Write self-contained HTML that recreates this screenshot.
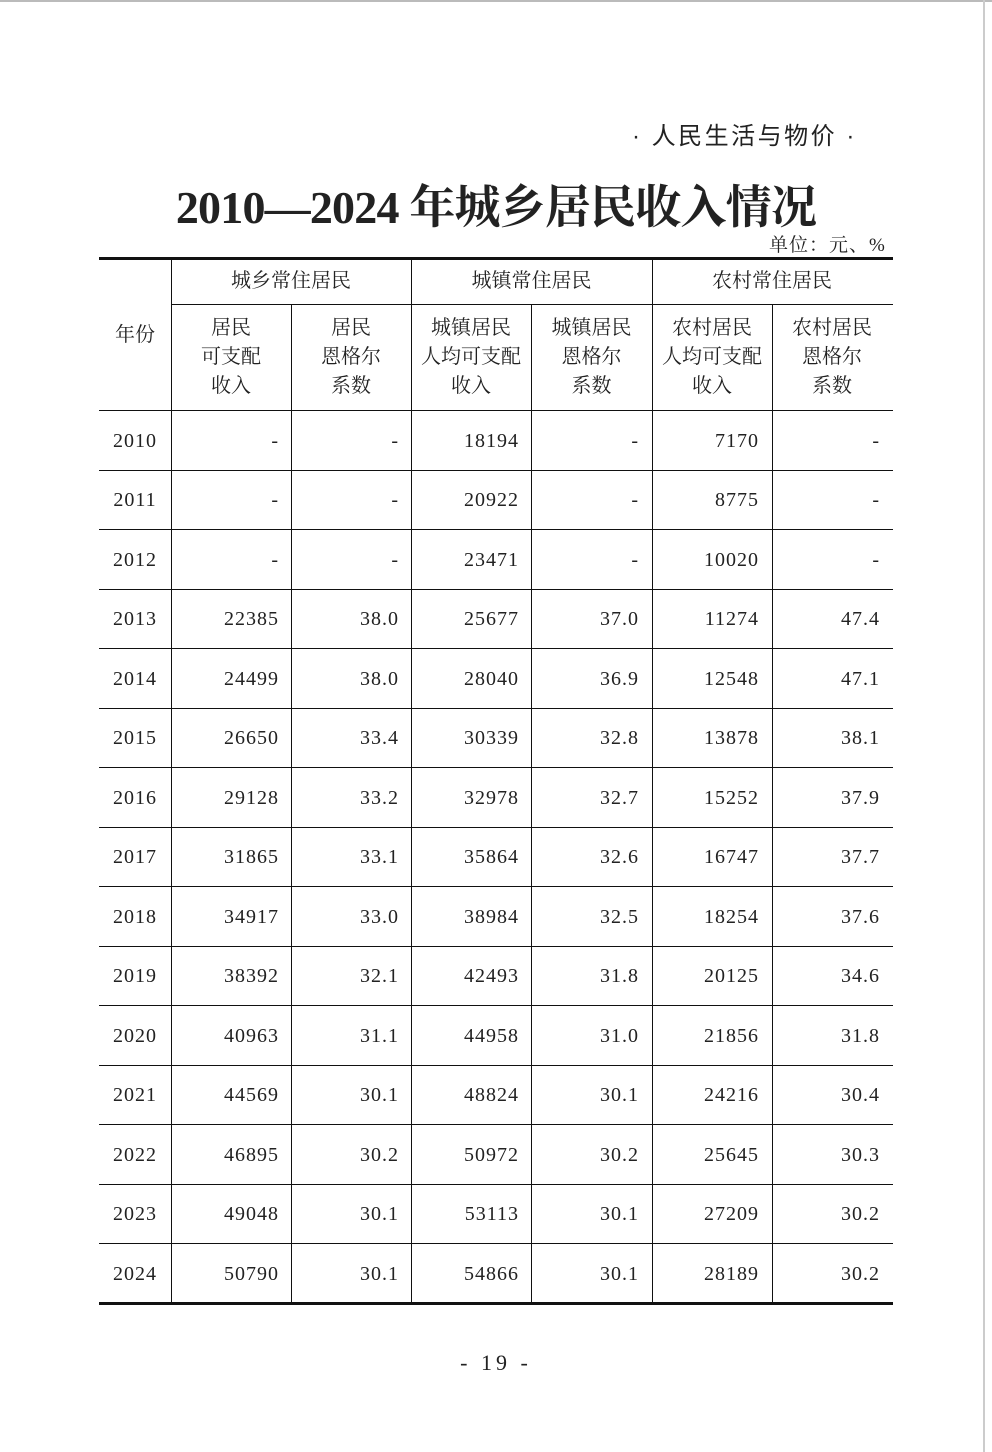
<!DOCTYPE html>
<html><head><meta charset="utf-8"><style>
body{margin:0;width:992px;height:1452px;background:#fff;position:relative;overflow:hidden;font-family:"Liberation Serif","Noto Serif CJK SC",serif;color:#222}
.a{position:absolute}
.h{position:absolute;background:#111}
.v{position:absolute;background:#111;width:1px}
.c{position:absolute;text-align:center;font-size:20px;line-height:29px}
.n{position:absolute;text-align:right;font-size:20px;line-height:24px;letter-spacing:1px}
</style></head><body>
<div class="a" style="left:0;top:0;width:992px;height:2px;background:#bbb"></div>
<div class="a" style="left:983px;top:0;width:2px;height:1452px;background:#ccc"></div>
<div class="a" style="left:632px;top:116px;font-size:24px;font-family:'Liberation Sans','Noto Sans CJK SC',sans-serif;letter-spacing:2.5px;white-space:nowrap">· 人民生活与物价 ·</div>
<div class="a" style="left:0;width:992px;top:171px;text-align:center;font-size:46px;font-weight:bold;font-family:'Liberation Serif','Noto Serif CJK SC',serif;letter-spacing:-0.8px">2010—2024 年城乡居民收入情况</div>
<div class="a" style="left:769px;top:230px;font-size:19px;letter-spacing:1px;white-space:nowrap">单位：元、%</div>
<div class="h" style="left:99px;top:257px;width:794px;height:3px"></div>
<div class="h" style="left:171px;top:304px;width:722px;height:1px"></div>
<div class="h" style="left:99px;top:410px;width:794px;height:1px"></div>
<div class="h" style="left:99px;top:1302px;width:794px;height:3px"></div>
<div class="v" style="left:171px;top:259px;height:1044px"></div>
<div class="v" style="left:291px;top:304px;height:999px"></div>
<div class="v" style="left:411px;top:259px;height:1044px"></div>
<div class="v" style="left:531px;top:304px;height:999px"></div>
<div class="v" style="left:652px;top:259px;height:1044px"></div>
<div class="v" style="left:772px;top:304px;height:999px"></div>
<div class="c" style="left:99px;width:72px;top:321px">年份</div>
<div class="c" style="left:171px;width:240px;top:267px">城乡常住居民</div>
<div class="c" style="left:411px;width:241px;top:267px">城镇常住居民</div>
<div class="c" style="left:652px;width:240px;top:267px">农村常住居民</div>
<div class="c" style="left:171px;width:120px;top:314px">居民<br>可支配<br>收入</div>
<div class="c" style="left:291px;width:120px;top:314px">居民<br>恩格尔<br>系数</div>
<div class="c" style="left:411px;width:120px;top:314px">城镇居民<br>人均可支配<br>收入</div>
<div class="c" style="left:531px;width:121px;top:314px">城镇居民<br>恩格尔<br>系数</div>
<div class="c" style="left:652px;width:120px;top:314px">农村居民<br>人均可支配<br>收入</div>
<div class="c" style="left:772px;width:120px;top:314px">农村居民<br>恩格尔<br>系数</div>
<div id="rows"></div>
<div class="a" style="left:0;width:992px;top:1350px;text-align:center;font-size:22px;letter-spacing:4px">- 19 -</div>
<script>
var d=[["2010","-","-","18194","-","7170","-"],["2011","-","-","20922","-","8775","-"],["2012","-","-","23471","-","10020","-"],["2013","22385","38.0","25677","37.0","11274","47.4"],["2014","24499","38.0","28040","36.9","12548","47.1"],["2015","26650","33.4","30339","32.8","13878","38.1"],["2016","29128","33.2","32978","32.7","15252","37.9"],["2017","31865","33.1","35864","32.6","16747","37.7"],["2018","34917","33.0","38984","32.5","18254","37.6"],["2019","38392","32.1","42493","31.8","20125","34.6"],["2020","40963","31.1","44958","31.0","21856","31.8"],["2021","44569","30.1","48824","30.1","24216","30.4"],["2022","46895","30.2","50972","30.2","25645","30.3"],["2023","49048","30.1","53113","30.1","27209","30.2"],["2024","50790","30.1","54866","30.1","28189","30.2"]];
var R=[279,399,519,639,759,880],h="",rh=59.5;
d.forEach(function(r,i){var y=410+i*rh;
if(i>0)h+='<div class="h" style="left:99px;top:'+Math.round(y)+'px;width:794px;height:1px"></div>';
var ty=Math.round(y+rh/2-11);
h+='<div class="n" style="left:99px;width:72px;text-align:center;top:'+ty+'px">'+r[0]+'</div>';
for(var j=1;j<7;j++)h+='<div class="n" style="left:'+(R[j-1]-110)+'px;width:110px;top:'+ty+'px">'+r[j]+'</div>';});
document.getElementById("rows").innerHTML=h;
</script>
</body></html>
